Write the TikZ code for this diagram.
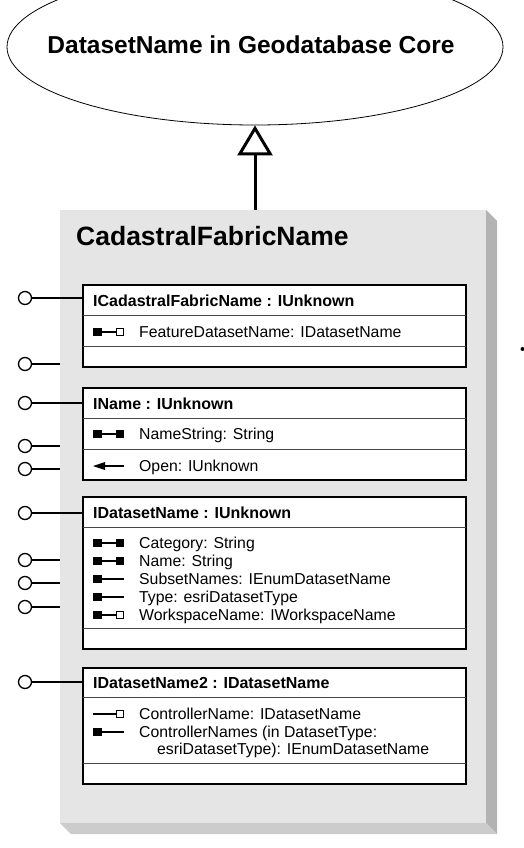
\documentclass[tikz,border=0pt]{standalone}
\usepackage{fontspec}
\setmainfont{Liberation Sans}
\usetikzlibrary{shapes.geometric,arrows.meta}
\definecolor{clsgray}{RGB}{229,229,229}
\definecolor{rshadow}{RGB}{179,179,179}
\definecolor{bshadow}{RGB}{204,204,204}
\definecolor{divgray}{RGB}{70,70,70}
\tikzset{
  ibox/.style={draw, line width=2pt, fill=white, anchor=north west, minimum width=383pt, inner sep=0pt, outer sep=0pt},
  lolli/.style={circle, draw, line width=1.3pt, fill=white, minimum size=13pt, inner sep=0pt, outer sep=0pt},
  lline/.style={line width=1.3pt},
  hdr/.style={anchor=base west, inner sep=0pt, font=\fontsize{16}{18}\selectfont\bfseries},
  mem/.style={anchor=base west, inner sep=0pt, font=\fontsize{15.8}{18}\selectfont},
  divline/.style={line width=0.9pt, divgray},
  icl/.style={line width=1.2pt},
  icRW/.pic={\fill (0,-4) rectangle (9,4); \draw[icl] (9,0)--(23,0); \draw[icl,fill=white] (23.6,-3.4) rectangle (30.4,3.4);},
  icRR/.pic={\fill (0,-4) rectangle (9,4); \draw[icl] (9,0)--(23,0); \fill (22.5,-4) rectangle (31,4);},
  icR/.pic={\fill (0,-4) rectangle (9,4); \draw[icl] (9,0)--(31,0);},
  icW/.pic={\draw[icl] (0,0)--(23,0); \draw[icl,fill=white] (23.6,-3.4) rectangle (30.4,3.4);},
  icM/.pic={\fill (0,0) -- (12,-4) -- (12,4) -- cycle; \draw[icl] (11,0)--(31,0);}
}
\begin{document}
\begin{tikzpicture}[x=1pt,y=-1pt]
\useasboundingbox (0,0) rectangle (524,848);
\clip (0,0) rectangle (524,848);

% super class ellipse
\node[ellipse, draw, line width=0.8pt, minimum width=496pt, minimum height=156pt, inner sep=0pt] (core) at (255,47) {};
\node[anchor=base, inner sep=0pt, font=\fontsize{24.5}{28}\selectfont\bfseries] (coretxt) at (251,54) {DatasetName in Geodatabase Core};

% class box with shadow
\fill[rshadow] (486,210) -- (497,221) -- (497,834) -- (486,823) -- cycle;
\fill[bshadow] (60,823) -- (486,823) -- (497,834) -- (71,834) -- cycle;
\node[fill=clsgray, anchor=north west, minimum width=426pt, minimum height=613pt, inner sep=0pt, outer sep=0pt] (cls) at (60,210) {};
\node[anchor=base west, inner sep=0pt, font=\fontsize{26.5}{30}\selectfont\bfseries] (clsname) at (76,245) {CadastralFabricName};

% inheritance
\draw[line width=3pt, -{Triangle[open, length=30pt, width=35pt]}] (core.south |- cls.north) -- (core.south);

% interface boxes
\node[ibox, minimum height=82pt] (b1) at (83,285) {};
\draw[divline] (83,315) -- (466,315);
\draw[divline] (83,346) -- (466,346);
\node[ibox, minimum height=92pt] (b2) at (83,388) {};
\draw[divline] (83,418) -- (466,418);
\draw[divline] (83,449) -- (466,449);
\node[ibox, minimum height=152pt] (b3) at (83,497) {};
\draw[divline] (83,527) -- (466,527);
\draw[divline] (83,628) -- (466,628);
\node[ibox, minimum height=116pt] (b4) at (83,668) {};
\draw[divline] (83,697) -- (466,697);
\draw[divline] (83,763) -- (466,763);

% headers
\node[hdr] (h1) at (93,306) {ICadastralFabricName : IUnknown};
\node[hdr] (h2) at (93,409) {IName : IUnknown};
\node[hdr] (h3) at (93,518) {IDatasetName : IUnknown};
\node[hdr] (h4) at (93,688) {IDatasetName2 : IDatasetName};

% members
\pic at (93,332) {icRW};
\node[mem] (m1) at (139,337.5) {FeatureDatasetName: IDatasetName};
\pic at (93,434) {icRR};
\node[mem] (m2) at (139,439) {NameString: String};
\pic at (93,466) {icM};
\node[mem] (m3) at (139,471) {Open: IUnknown};
\pic at (93,543) {icRR};
\node[mem] (m4) at (139,548.5) {Category: String};
\pic at (93,561) {icRR};
\node[mem] (m5) at (139,566.5) {Name: String};
\pic at (93,579) {icR};
\node[mem] (m6) at (139,584.5) {SubsetNames: IEnumDatasetName};
\pic at (93,597) {icR};
\node[mem] (m7) at (139,602.5) {Type: esriDatasetType};
\pic at (93,615) {icRW};
\node[mem] (m8) at (139,620.5) {WorkspaceName: IWorkspaceName};
\pic at (93,714) {icW};
\node[mem] (m9) at (139,719.5) {ControllerName: IDatasetName};
\pic at (93,732) {icR};
\node[mem] (m10) at (139,737.5) {ControllerNames (in DatasetType:};
\node[mem] (m11) at (157,754.5) {esriDatasetType): IEnumDatasetName};

% lollipops
\node[lolli] (l1) at (25,298) {};
\node[lolli] (l2) at (25,364) {};
\node[lolli] (l3) at (25,403) {};
\node[lolli] (l4) at (25,446) {};
\node[lolli] (l5) at (25,469) {};
\node[lolli] (l6) at (25,513) {};
\node[lolli] (l7) at (25,560) {};
\node[lolli] (l8) at (25,583) {};
\node[lolli] (l9) at (25,607) {};
\node[lolli] (l10) at (25,682) {};
\draw[lline] (l1) -- (b1.west |- l1);
\draw[lline] (l2) -- (cls.west |- l2);
\draw[lline] (l3) -- (b2.west |- l3);
\draw[lline] (l4) -- (cls.west |- l4);
\draw[lline] (l5) -- (cls.west |- l5);
\draw[lline] (l6) -- (b3.west |- l6);
\draw[lline] (l7) -- (cls.west |- l7);
\draw[lline] (l8) -- (cls.west |- l8);
\draw[lline] (l9) -- (cls.west |- l9);
\draw[lline] (l10) -- (b4.west |- l10);

% stray mark at right edge
\fill (522.5,349) circle (2);
\end{tikzpicture}
\end{document}
